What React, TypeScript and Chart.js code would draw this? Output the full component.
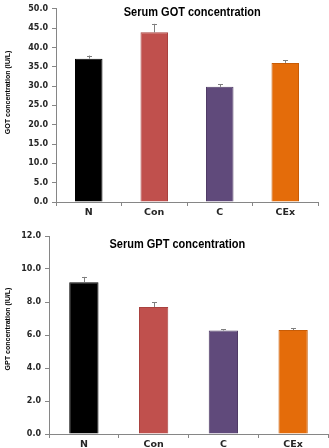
import React, { useEffect, useRef } from "react";
import { Chart, registerables } from "chart.js";

Chart.register(...registerables);

const categories = ["N", "Con", "C", "CEx"];
const barColors = ["#000000", "#c0504d", "#604a7b", "#e46c0a"];
const barBorders = ["#000000", "#a9423f", "#4f3c66", "#c85c06"];

const gotValues = [37.1, 43.9, 29.8, 36.0];
const gotErrors = [0.8, 2.2, 0.7, 0.7];
const gotTicks = [0, 5, 10, 15, 20, 25, 30, 35, 40, 45, 50];

const gptValues = [9.2, 7.7, 6.27, 6.3];
const gptErrors = [0.32, 0.28, 0.08, 0.1];
const gptTicks = [0, 2, 4, 6, 8, 10, 12];

const TICK_FONT = "'DejaVu Sans', sans-serif";
const TITLE_FONT = "'Liberation Sans', Arial, sans-serif";

const overlayPlugin = {
  id: "overlay",
  afterDatasetsDraw(chart: any, _args: any, opts: any) {
    const ctx = chart.ctx;
    const ys = chart.scales.y;
    const meta = chart.getDatasetMeta(0);
    ctx.save();
    ctx.strokeStyle = "#7f7f7f";
    ctx.lineWidth = 1;
    meta.data.forEach((bar: any, i: number) => {
      const v = opts.values[i];
      const e = opts.errors[i];
      const yBar = ys.getPixelForValue(v);
      const yTop = ys.getPixelForValue(v + e);
      const x = Math.round(bar.x) + 0.5;
      ctx.beginPath();
      ctx.moveTo(x, yBar);
      ctx.lineTo(x, yTop);
      ctx.moveTo(x - 2.5, Math.round(yTop) + 0.5);
      ctx.lineTo(x + 2.5, Math.round(yTop) + 0.5);
      ctx.stroke();
    });
    const ca = chart.chartArea;
    // chart title
    ctx.save();
    ctx.fillStyle = "#000000";
    ctx.font = "bold 12.5px " + TITLE_FONT;
    ctx.textAlign = "center";
    ctx.textBaseline = "middle";
    const tx = ca.left + opts.titleFrac * (ca.right - ca.left);
    ctx.translate(tx, ca.top + opts.titleDy);
    ctx.scale(0.88, 1);
    ctx.fillText(opts.title, 0, 0);
    ctx.restore();
    // y-axis title
    ctx.save();
    ctx.fillStyle = "#000000";
    ctx.font = "bold 8px " + TITLE_FONT;
    ctx.textAlign = "center";
    ctx.textBaseline = "middle";
    ctx.translate(8, (ca.top + ca.bottom) / 2 + opts.yTitleDy);
    ctx.rotate(-Math.PI / 2);
    ctx.scale(0.88, 1);
    ctx.fillText(opts.yTitle, 0, 0);
    ctx.restore();
    ctx.restore();
  },
};

type Props = {
  values: number[];
  errors: number[];
  ticks: number[];
  title: string;
  yTitle: string;
  height: number;
  axisWidth: number;
  xAxisHeight: number;
  padTop: number;
  padRight: number;
  titleFrac: number;
  titleDy: number;
  yTitleDy: number;
};

function BarChart(p: Props) {
  const ref = useRef<HTMLCanvasElement>(null);
  useEffect(() => {
    if (!ref.current) return;
    const chart = new Chart(ref.current, {
      type: "bar",
      data: {
        labels: categories,
        datasets: [
          {
            data: p.values,
            backgroundColor: barColors,
            borderColor: barBorders,
            borderWidth: 1,
            barPercentage: 0.42,
            categoryPercentage: 1,
          },
        ],
      },
      plugins: [overlayPlugin],
      options: {
        animation: false,
        responsive: false,
        maintainAspectRatio: false,
        layout: { padding: { top: p.padTop, right: p.padRight, left: 0, bottom: 0 } },
        plugins: {
          legend: { display: false },
          tooltip: { enabled: false },
          title: { display: false },
          overlay: {
            values: p.values,
            errors: p.errors,
            title: p.title,
            yTitle: p.yTitle,
            titleFrac: p.titleFrac,
            titleDy: p.titleDy,
            yTitleDy: p.yTitleDy,
          },
        } as any,
        scales: {
          x: {
            grid: {
              display: true,
              drawOnChartArea: false,
              offset: true,
              tickLength: 4,
              color: "#868686",
            },
            border: { color: "#868686", width: 1 },
            ticks: {
              color: "#262626",
              font: { family: TICK_FONT, size: 9.5, weight: "bold" },
              padding: 1,
            },
            afterFit: (s: any) => {
              s.height = p.xAxisHeight;
            },
          },
          y: {
            min: p.ticks[0],
            max: p.ticks[p.ticks.length - 1],
            afterBuildTicks: (s: any) => {
              s.ticks = p.ticks.map((v) => ({ value: v }));
            },
            grid: {
              display: true,
              drawOnChartArea: false,
              tickLength: 4,
              color: "#868686",
            },
            border: { color: "#868686", width: 1 },
            ticks: {
              color: "#262626",
              font: { family: TICK_FONT, size: 8, weight: "bold" },
              padding: 4,
              callback: (v: any) => Number(v).toFixed(1),
            },
            title: { display: false },
            afterFit: (s: any) => {
              s.width = p.axisWidth;
            },
          },
        },
      },
    });
    return () => chart.destroy();
  }, []);
  return <canvas ref={ref} width={329} height={p.height} style={{ display: "block", width: 329, height: p.height }} />;
}

export default function App() {
  useEffect(() => {
    document.body.style.margin = "0";
    document.body.style.background = "#ffffff";
  }, []);
  return (
    <div style={{ width: 329, height: 448, background: "#fff", position: "relative" }}>
      <BarChart
        values={gotValues}
        errors={gotErrors}
        ticks={gotTicks}
        title="Serum GOT concentration"
        yTitle="GOT concentration (IU/L)"
        height={220}
        axisWidth={56}
        xAxisHeight={18}
        padTop={6}
        padRight={11}
        titleFrac={0.52}
        titleDy={4}
        yTitleDy={-13}
      />
      <BarChart
        values={gptValues}
        errors={gptErrors}
        ticks={gptTicks}
        title="Serum GPT concentration"
        yTitle="GPT concentration (IU/L)"
        height={228}
        axisWidth={49}
        xAxisHeight={14}
        padTop={16}
        padRight={1}
        titleFrac={0.46}
        titleDy={9}
        yTitleDy={-6}
      />
    </div>
  );
}
